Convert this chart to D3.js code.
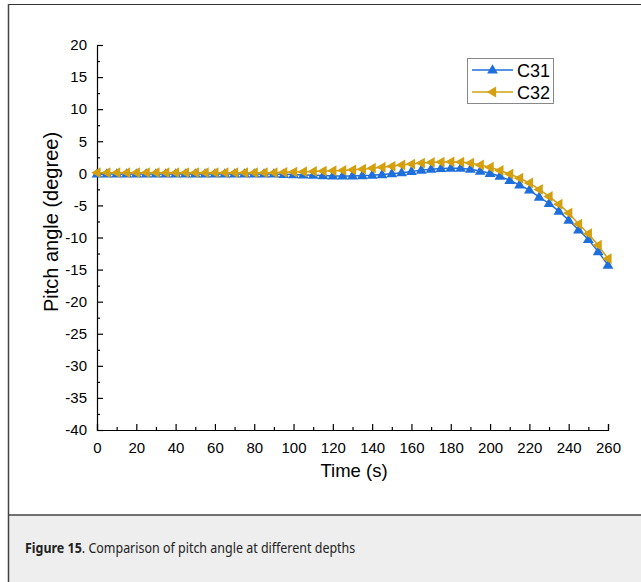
<!DOCTYPE html>
<html><head><meta charset="utf-8">
<script src="https://cdn.jsdelivr.net/npm/d3@7/dist/d3.min.js"></script>
<style>
body{margin:0;background:#fff;}
svg{display:block;}
</style></head>
<body>
<svg id="c" width="641" height="582"></svg>
<script>
const times = d3.range(0, 261, 5);
const c31 = [-0.1,-0.1,-0.1,-0.1,-0.1,-0.1,-0.1,-0.1,-0.1,-0.1,-0.1,-0.1,-0.1,-0.1,-0.1,-0.1,-0.1,-0.1,-0.1,-0.15,
  -0.2,-0.25,-0.3,-0.35,-0.4,-0.4,-0.4,-0.35,-0.3,-0.2,-0.05,0.1,0.3,0.5,0.65,0.75,0.8,0.8,0.65,0.35,
  0.0,-0.45,-1.1,-1.8,-2.6,-3.7,-4.7,-5.9,-7.3,-8.8,-10.3,-12.2,-14.3];
const c32 = [0.1,0.1,0.1,0.1,0.1,0.1,0.1,0.1,0.1,0.1,0.1,0.1,0.1,0.1,0.1,0.1,0.1,0.1,0.1,0.15,
  0.2,0.25,0.3,0.35,0.4,0.45,0.55,0.65,0.8,0.95,1.1,1.3,1.45,1.6,1.7,1.75,1.8,1.75,1.6,1.3,
  0.95,0.45,-0.1,-0.75,-1.5,-2.5,-3.6,-4.8,-6.2,-7.9,-9.4,-11.2,-13.3];
const seriesNames = ["C31","C32"];
const xTicks = d3.range(0, 261, 20);
const yTicks = d3.range(-40, 21, 5);
const caption = ["Figure 15", ". Comparison of pitch angle at different depths"];

const svg = d3.select("#c");
// frame
svg.append("rect").attr("x",8).attr("y",515).attr("width",641).attr("height",70).attr("fill","#eeeeee");
svg.append("line").attr("x1",8).attr("x2",641).attr("y1",4.5).attr("y2",4.5).attr("stroke","#333").attr("stroke-width",1.2);
svg.append("line").attr("x1",8).attr("x2",641).attr("y1",515).attr("y2",515).attr("stroke","#444").attr("stroke-width",1.5);
svg.append("line").attr("x1",8.5).attr("x2",8.5).attr("y1",4).attr("y2",582).attr("stroke","#444").attr("stroke-width",1.5);

const x = d3.scaleLinear().domain([0,260]).range([97,608]);
const y = d3.scaleLinear().domain([-40,20]).range([430,45]);
const font = "Liberation Sans, Arial, sans-serif";
const fmt = d => String(d);

// x axis
const gx = svg.append("g").attr("transform","translate(0,430)")
  .call(d3.axisBottom(x).tickValues(d3.range(10,261,20)).tickSize(-3).tickFormat(""));
gx.select("path").remove();
const gx2 = svg.append("g").attr("transform","translate(0,430)")
  .call(d3.axisBottom(x).tickValues(xTicks).tickSize(-6).tickPadding(12).tickFormat(fmt));
[gx,gx2].forEach(g=>{g.selectAll("path,line").attr("stroke","#000").attr("stroke-width",1.2);});
gx2.selectAll("text").attr("font-family",font).attr("font-size",15).attr("fill","#000");

// y axis
const gy = svg.append("g").attr("transform","translate(97,0)")
  .call(d3.axisLeft(y).tickValues(d3.range(-37.5,20,5)).tickSize(-3).tickFormat(""));
gy.select("path").remove();
const gy2 = svg.append("g").attr("transform","translate(97,0)")
  .call(d3.axisLeft(y).tickValues(yTicks).tickSize(-6).tickPadding(10).tickFormat(fmt));
[gy,gy2].forEach(g=>{g.selectAll("path,line").attr("stroke","#000").attr("stroke-width",1.2);});
gy2.selectAll("text").attr("font-family",font).attr("font-size",15).attr("fill","#000");

// titles
svg.append("text").attr("x",354).attr("y",477).attr("text-anchor","middle")
  .attr("font-family",font).attr("font-size",18.5).text("Time (s)");
svg.append("text").attr("transform","translate(58,222) rotate(-90)").attr("text-anchor","middle")
  .attr("font-family",font).attr("font-size",20).text("Pitch angle (degree)");

const colors = ["#1E6FDC","#D4A010"];
const data = [c31,c32];
const line = d3.line().x((d,i)=>x(times[i])).y(d=>y(d));
const triUp = "M0,-5.8L5.4,3.6L-5.4,3.6Z";
const triLeft = "M-5.8,0L3.6,-5.4L3.6,5.4Z";
const shapes = [triUp, triLeft];

data.forEach((s,k)=>{
  svg.append("path").datum(s).attr("d",line).attr("fill","none").attr("stroke",colors[k]).attr("stroke-width",1.5);
  svg.append("g").selectAll("path").data(s).join("path")
    .attr("transform",(d,i)=>`translate(${x(times[i])},${y(d)})`)
    .attr("d",shapes[k]).attr("fill",colors[k]);
});

// legend
const lg = svg.append("g");
lg.append("rect").attr("x",467.5).attr("y",58.5).attr("width",86).attr("height",45)
  .attr("fill","#fff").attr("stroke","#888").attr("stroke-width",1);
seriesNames.forEach((n,k)=>{
  const yy = 70 + k*22;
  lg.append("line").attr("x1",472).attr("x2",513).attr("y1",yy).attr("y2",yy).attr("stroke",colors[k]).attr("stroke-width",1.5);
  lg.append("path").attr("transform",`translate(492.5,${yy})`).attr("d",shapes[k]).attr("fill",colors[k]);
  lg.append("text").attr("x",517).attr("y",yy+6.5).attr("font-family",font).attr("font-size",18).text(n);
});

// caption
const ct = svg.append("text").attr("transform","translate(25,553) scale(0.86,1)")
  .attr("font-family","Noto Sans, Open Sans, sans-serif")
  .attr("font-size",14.5).attr("fill","#222");
ct.append("tspan").attr("font-weight","bold").text(caption[0]);
ct.append("tspan").text(caption[1]);
</script>
</body></html>
